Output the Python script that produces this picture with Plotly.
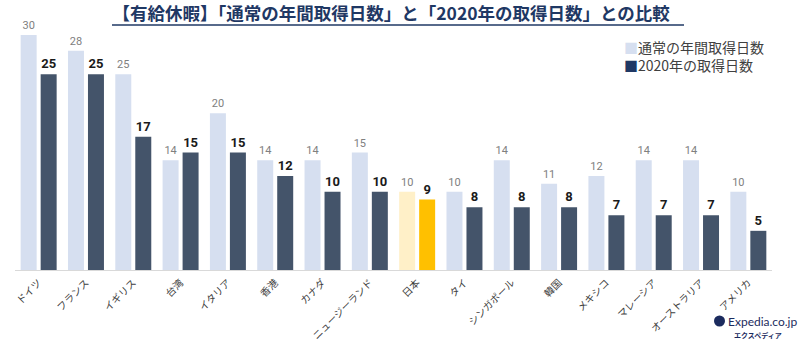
import plotly.graph_objects as go

categories = ["ドイツ", "フランス", "イギリス", "台湾", "イタリア", "香港", "カナダ",
              "ニュージーランド", "日本", "タイ", "シンガポール", "韓国", "メキシコ",
              "マレーシア", "オーストラリア", "アメリカ"]
usual_days = [30, 28, 25, 14, 20, 14, 14, 15, 10, 10, 14, 11, 12, 14, 14, 10]
days_2020 = [25, 25, 17, 15, 15, 12, 10, 10, 9, 8, 8, 8, 7, 7, 7, 5]
series_names = ["通常の年間取得日数", "2020年の取得日数"]
title_text = "【有給休暇】「通常の年間取得日数」と「2020年の取得日数」との比較"

LIGHT = "#d6dff0"
DARK = "#44546a"
JP_LIGHT = "#fff0c8"
JP_DARK = "#ffc000"

light_colors = [JP_LIGHT if c == "日本" else LIGHT for c in categories]
dark_colors = [JP_DARK if c == "日本" else DARK for c in categories]

W, H = 800, 342
ML, MR, MT, MB = 15, 28, 35, 72
PW, PH = W - ML - MR, H - MT - MB

def px_x(x):
    return (x - ML) / PW

def px_y(y):
    return 1 - (y - MT) / PH

FONT = "Noto Sans CJK JP"

fig = go.Figure()
fig.add_trace(go.Bar(
    x=categories, y=usual_days, name=series_names[0],
    marker=dict(color=light_colors, line=dict(width=0)),
    text=usual_days, textposition="outside", texttemplate="%{y}",
    textfont=dict(family="Roboto", size=11, color="#808080"),
    cliponaxis=False, constraintext="none", showlegend=False,
))
fig.add_trace(go.Bar(
    x=categories, y=days_2020, name=series_names[1],
    marker=dict(color=dark_colors, line=dict(width=0)),
    text=days_2020, textposition="outside", texttemplate="<b>%{y}</b>",
    textfont=dict(family="Roboto", size=13, color="#1a1a1a"),
    cliponaxis=False, constraintext="none", showlegend=False,
))

legend_text = (f'<span style="color:{LIGHT}">■</span>{series_names[0]}<br>'
               f'<span style="color:#203864">■</span>{series_names[1]}')

annotations = [
    dict(xref="paper", yref="paper", x=px_x(622), y=px_y(56.5), xanchor="left", yanchor="middle",
         text=legend_text, showarrow=False, align="left",
         font=dict(family=FONT, size=14, color="#404040")),
    dict(xref="paper", yref="paper", x=px_x(726), y=px_y(321), xanchor="left", yanchor="middle",
         text="Expedia.co.jp", showarrow=False,
         font=dict(family="Lato", size=12, color="#1b2b5e")),
    dict(xref="paper", yref="paper", x=px_x(784), y=px_y(335), xanchor="right", yanchor="middle",
         text="<b>エクスペディア</b>", showarrow=False,
         font=dict(family=FONT, size=7, color="#1b2b5e")),
]

shapes = [
    dict(type="line", xref="paper", yref="paper", x0=px_x(112), x1=px_x(684),
         y0=px_y(25), y1=px_y(25), line=dict(color="#1f3864", width=1.5)),
    dict(type="circle", xref="paper", yref="paper", x0=px_x(714), x1=px_x(725),
         y0=px_y(315.5), y1=px_y(326.5), fillcolor="#1b2b5e", line=dict(width=0)),
]

fig.update_layout(
    width=W, height=H,
    margin=dict(l=ML, r=MR, t=MT, b=MB, autoexpand=False),
    paper_bgcolor="white", plot_bgcolor="white",
    barmode="group", bargap=0.155, bargroupgap=0.2,
    title=dict(text=f"<b>{title_text}</b>", x=0.489, xref="container", xanchor="center",
               y=1 - 14 / H, yref="container", yanchor="middle",
               font=dict(family=FONT, size=17.5, color="#1f3864")),
    xaxis=dict(tickangle=-45, tickfont=dict(family=FONT, size=10, color="#404040"),
               showline=True, linecolor="#d9d9d9", linewidth=1, ticks="", ticklabelstandoff=2,
               showgrid=False, range=[-0.5, len(categories) - 0.5], automargin=False),
    yaxis=dict(range=[0, 30], visible=False, showgrid=False, zeroline=False, automargin=False),
    annotations=annotations, shapes=shapes,
    showlegend=False,
)

fig.write_html("out.html")
